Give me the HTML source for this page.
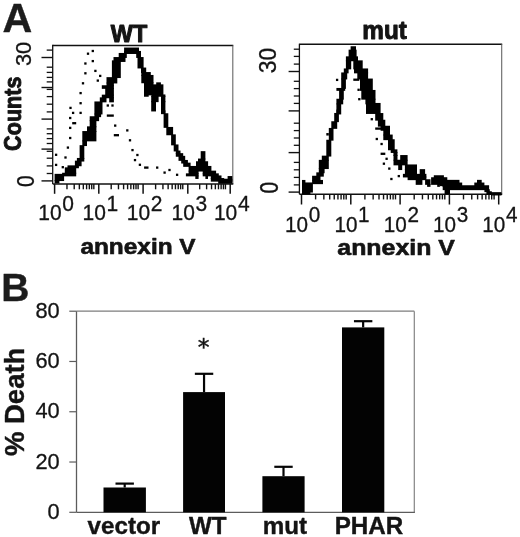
<!DOCTYPE html>
<html><head><meta charset="utf-8"><title>Figure</title>
<style>
html,body{margin:0;padding:0;background:#fff;}
svg{display:block;filter:blur(0.35px);}
text{font-family:"Liberation Sans",Arial,Helvetica,sans-serif;}
text.dj{font-family:"DejaVu Sans","Liberation Sans",sans-serif;}
</style></head>
<body>
<svg width="520" height="537" viewBox="0 0 520 537">
<rect x="0" y="0" width="520" height="537" fill="#ffffff"/>
<text transform="translate(2.4,32.0)"  font-size="41.2" font-weight="bold" stroke="#1c1c1c" stroke-width="0.4" stroke-linejoin="round" text-anchor="start" fill="#1c1c1c" >A</text>
<text transform="translate(1.2,301.2)"  font-size="39" font-weight="bold" stroke="#1c1c1c" stroke-width="0.4" stroke-linejoin="round" text-anchor="start" fill="#1c1c1c" >B</text>
<line x1="52.70" y1="44.80" x2="52.70" y2="184.00" stroke="#111" stroke-width="1.3"/>
<line x1="52.70" y1="45.40" x2="233.30" y2="45.40" stroke="#111" stroke-width="1.5"/>
<line x1="232.80" y1="45.40" x2="232.80" y2="184.00" stroke="#666" stroke-width="1.1"/>
<line x1="52.70" y1="184.00" x2="233.30" y2="184.00" stroke="#111" stroke-width="1.4"/>
<line x1="54.60" y1="184.00" x2="54.60" y2="193.80" stroke="#111" stroke-width="1.5"/>
<line x1="66.97" y1="184.00" x2="66.97" y2="189.30" stroke="#111" stroke-width="1.4"/>
<line x1="74.21" y1="184.00" x2="74.21" y2="189.30" stroke="#111" stroke-width="1.4"/>
<line x1="79.35" y1="184.00" x2="79.35" y2="189.30" stroke="#111" stroke-width="1.4"/>
<line x1="83.33" y1="184.00" x2="83.33" y2="189.30" stroke="#111" stroke-width="1.4"/>
<line x1="86.59" y1="184.00" x2="86.59" y2="189.30" stroke="#111" stroke-width="1.4"/>
<line x1="89.34" y1="184.00" x2="89.34" y2="189.30" stroke="#111" stroke-width="1.4"/>
<line x1="91.72" y1="184.00" x2="91.72" y2="189.30" stroke="#111" stroke-width="1.4"/>
<line x1="93.83" y1="184.00" x2="93.83" y2="189.30" stroke="#111" stroke-width="1.4"/>
<line x1="98.80" y1="184.00" x2="98.80" y2="193.80" stroke="#111" stroke-width="1.5"/>
<line x1="111.20" y1="184.00" x2="111.20" y2="189.30" stroke="#111" stroke-width="1.4"/>
<line x1="118.46" y1="184.00" x2="118.46" y2="189.30" stroke="#111" stroke-width="1.4"/>
<line x1="123.60" y1="184.00" x2="123.60" y2="189.30" stroke="#111" stroke-width="1.4"/>
<line x1="127.60" y1="184.00" x2="127.60" y2="189.30" stroke="#111" stroke-width="1.4"/>
<line x1="130.86" y1="184.00" x2="130.86" y2="189.30" stroke="#111" stroke-width="1.4"/>
<line x1="133.62" y1="184.00" x2="133.62" y2="189.30" stroke="#111" stroke-width="1.4"/>
<line x1="136.01" y1="184.00" x2="136.01" y2="189.30" stroke="#111" stroke-width="1.4"/>
<line x1="138.11" y1="184.00" x2="138.11" y2="189.30" stroke="#111" stroke-width="1.4"/>
<line x1="143.10" y1="184.00" x2="143.10" y2="193.80" stroke="#111" stroke-width="1.5"/>
<line x1="155.61" y1="184.00" x2="155.61" y2="189.30" stroke="#111" stroke-width="1.4"/>
<line x1="162.93" y1="184.00" x2="162.93" y2="189.30" stroke="#111" stroke-width="1.4"/>
<line x1="168.13" y1="184.00" x2="168.13" y2="189.30" stroke="#111" stroke-width="1.4"/>
<line x1="172.16" y1="184.00" x2="172.16" y2="189.30" stroke="#111" stroke-width="1.4"/>
<line x1="175.45" y1="184.00" x2="175.45" y2="189.30" stroke="#111" stroke-width="1.4"/>
<line x1="178.23" y1="184.00" x2="178.23" y2="189.30" stroke="#111" stroke-width="1.4"/>
<line x1="180.64" y1="184.00" x2="180.64" y2="189.30" stroke="#111" stroke-width="1.4"/>
<line x1="182.77" y1="184.00" x2="182.77" y2="189.30" stroke="#111" stroke-width="1.4"/>
<line x1="187.80" y1="184.00" x2="187.80" y2="193.80" stroke="#111" stroke-width="1.5"/>
<line x1="199.67" y1="184.00" x2="199.67" y2="189.30" stroke="#111" stroke-width="1.4"/>
<line x1="206.61" y1="184.00" x2="206.61" y2="189.30" stroke="#111" stroke-width="1.4"/>
<line x1="211.54" y1="184.00" x2="211.54" y2="189.30" stroke="#111" stroke-width="1.4"/>
<line x1="215.36" y1="184.00" x2="215.36" y2="189.30" stroke="#111" stroke-width="1.4"/>
<line x1="218.48" y1="184.00" x2="218.48" y2="189.30" stroke="#111" stroke-width="1.4"/>
<line x1="221.12" y1="184.00" x2="221.12" y2="189.30" stroke="#111" stroke-width="1.4"/>
<line x1="223.41" y1="184.00" x2="223.41" y2="189.30" stroke="#111" stroke-width="1.4"/>
<line x1="225.43" y1="184.00" x2="225.43" y2="189.30" stroke="#111" stroke-width="1.4"/>
<line x1="230.20" y1="184.00" x2="230.20" y2="193.80" stroke="#111" stroke-width="1.5"/>
<line x1="41.50" y1="57.50" x2="52.70" y2="57.50" stroke="#111" stroke-width="1.4"/>
<line x1="41.50" y1="87.50" x2="52.70" y2="87.50" stroke="#111" stroke-width="1.4"/>
<line x1="41.50" y1="119.10" x2="52.70" y2="119.10" stroke="#111" stroke-width="1.4"/>
<line x1="41.50" y1="149.10" x2="52.70" y2="149.10" stroke="#111" stroke-width="1.4"/>
<line x1="41.50" y1="180.90" x2="52.70" y2="180.90" stroke="#111" stroke-width="1.4"/>
<line x1="46.70" y1="50.10" x2="52.70" y2="50.10" stroke="#111" stroke-width="1.3"/>
<line x1="46.70" y1="67.20" x2="52.70" y2="67.20" stroke="#111" stroke-width="1.3"/>
<line x1="46.70" y1="72.40" x2="52.70" y2="72.40" stroke="#111" stroke-width="1.3"/>
<line x1="46.70" y1="77.40" x2="52.70" y2="77.40" stroke="#111" stroke-width="1.3"/>
<line x1="46.70" y1="81.90" x2="52.70" y2="81.90" stroke="#111" stroke-width="1.3"/>
<line x1="46.70" y1="89.40" x2="52.70" y2="89.40" stroke="#111" stroke-width="1.3"/>
<line x1="46.70" y1="96.60" x2="52.70" y2="96.60" stroke="#111" stroke-width="1.3"/>
<line x1="46.70" y1="104.20" x2="52.70" y2="104.20" stroke="#111" stroke-width="1.3"/>
<line x1="46.70" y1="111.90" x2="52.70" y2="111.90" stroke="#111" stroke-width="1.3"/>
<line x1="46.70" y1="128.90" x2="52.70" y2="128.90" stroke="#111" stroke-width="1.3"/>
<line x1="46.70" y1="133.70" x2="52.70" y2="133.70" stroke="#111" stroke-width="1.3"/>
<line x1="46.70" y1="138.60" x2="52.70" y2="138.60" stroke="#111" stroke-width="1.3"/>
<line x1="46.70" y1="143.50" x2="52.70" y2="143.50" stroke="#111" stroke-width="1.3"/>
<line x1="46.70" y1="151.30" x2="52.70" y2="151.30" stroke="#111" stroke-width="1.3"/>
<line x1="46.70" y1="158.20" x2="52.70" y2="158.20" stroke="#111" stroke-width="1.3"/>
<line x1="46.70" y1="165.90" x2="52.70" y2="165.90" stroke="#111" stroke-width="1.3"/>
<line x1="46.70" y1="173.50" x2="52.70" y2="173.50" stroke="#111" stroke-width="1.3"/>
<text transform="translate(38.30,219.9) scale(1,1.04)"  font-size="21.0" fill="#141414" stroke="#141414" stroke-width="0.3">10<tspan dy="-8.94" dx="0.7">0</tspan></text>
<text transform="translate(82.50,219.9) scale(1,1.04)"  font-size="21.0" fill="#141414" stroke="#141414" stroke-width="0.3">10<tspan dy="-8.94" dx="0.7">1</tspan></text>
<text transform="translate(126.80,219.9) scale(1,1.04)"  font-size="21.0" fill="#141414" stroke="#141414" stroke-width="0.3">10<tspan dy="-8.94" dx="0.7">2</tspan></text>
<text transform="translate(171.50,219.9) scale(1,1.04)"  font-size="21.0" fill="#141414" stroke="#141414" stroke-width="0.3">10<tspan dy="-8.94" dx="0.7">3</tspan></text>
<text transform="translate(213.90,219.9) scale(1,1.04)"  font-size="21.0" fill="#141414" stroke="#141414" stroke-width="0.3">10<tspan dy="-8.94" dx="0.7">4</tspan></text>
<line x1="299.40" y1="43.70" x2="299.40" y2="194.20" stroke="#111" stroke-width="1.3"/>
<line x1="299.40" y1="44.30" x2="502.20" y2="44.30" stroke="#111" stroke-width="1.5"/>
<line x1="501.70" y1="44.30" x2="501.70" y2="194.20" stroke="#666" stroke-width="1.1"/>
<line x1="299.40" y1="194.20" x2="502.20" y2="194.20" stroke="#111" stroke-width="1.4"/>
<line x1="301.50" y1="194.20" x2="301.50" y2="204.50" stroke="#111" stroke-width="1.5"/>
<line x1="315.60" y1="194.20" x2="315.60" y2="199.40" stroke="#111" stroke-width="1.4"/>
<line x1="323.85" y1="194.20" x2="323.85" y2="199.40" stroke="#111" stroke-width="1.4"/>
<line x1="329.70" y1="194.20" x2="329.70" y2="199.40" stroke="#111" stroke-width="1.4"/>
<line x1="334.24" y1="194.20" x2="334.24" y2="199.40" stroke="#111" stroke-width="1.4"/>
<line x1="337.94" y1="194.20" x2="337.94" y2="199.40" stroke="#111" stroke-width="1.4"/>
<line x1="341.08" y1="194.20" x2="341.08" y2="199.40" stroke="#111" stroke-width="1.4"/>
<line x1="343.80" y1="194.20" x2="343.80" y2="199.40" stroke="#111" stroke-width="1.4"/>
<line x1="346.19" y1="194.20" x2="346.19" y2="199.40" stroke="#111" stroke-width="1.4"/>
<line x1="350.80" y1="194.20" x2="350.80" y2="204.50" stroke="#111" stroke-width="1.5"/>
<line x1="364.90" y1="194.20" x2="364.90" y2="199.40" stroke="#111" stroke-width="1.4"/>
<line x1="373.15" y1="194.20" x2="373.15" y2="199.40" stroke="#111" stroke-width="1.4"/>
<line x1="379.00" y1="194.20" x2="379.00" y2="199.40" stroke="#111" stroke-width="1.4"/>
<line x1="383.54" y1="194.20" x2="383.54" y2="199.40" stroke="#111" stroke-width="1.4"/>
<line x1="387.24" y1="194.20" x2="387.24" y2="199.40" stroke="#111" stroke-width="1.4"/>
<line x1="390.38" y1="194.20" x2="390.38" y2="199.40" stroke="#111" stroke-width="1.4"/>
<line x1="393.10" y1="194.20" x2="393.10" y2="199.40" stroke="#111" stroke-width="1.4"/>
<line x1="395.49" y1="194.20" x2="395.49" y2="199.40" stroke="#111" stroke-width="1.4"/>
<line x1="400.10" y1="194.20" x2="400.10" y2="204.50" stroke="#111" stroke-width="1.5"/>
<line x1="414.20" y1="194.20" x2="414.20" y2="199.40" stroke="#111" stroke-width="1.4"/>
<line x1="422.45" y1="194.20" x2="422.45" y2="199.40" stroke="#111" stroke-width="1.4"/>
<line x1="428.30" y1="194.20" x2="428.30" y2="199.40" stroke="#111" stroke-width="1.4"/>
<line x1="432.84" y1="194.20" x2="432.84" y2="199.40" stroke="#111" stroke-width="1.4"/>
<line x1="436.54" y1="194.20" x2="436.54" y2="199.40" stroke="#111" stroke-width="1.4"/>
<line x1="439.68" y1="194.20" x2="439.68" y2="199.40" stroke="#111" stroke-width="1.4"/>
<line x1="442.40" y1="194.20" x2="442.40" y2="199.40" stroke="#111" stroke-width="1.4"/>
<line x1="444.79" y1="194.20" x2="444.79" y2="199.40" stroke="#111" stroke-width="1.4"/>
<line x1="449.40" y1="194.20" x2="449.40" y2="204.50" stroke="#111" stroke-width="1.5"/>
<line x1="463.50" y1="194.20" x2="463.50" y2="199.40" stroke="#111" stroke-width="1.4"/>
<line x1="471.75" y1="194.20" x2="471.75" y2="199.40" stroke="#111" stroke-width="1.4"/>
<line x1="477.60" y1="194.20" x2="477.60" y2="199.40" stroke="#111" stroke-width="1.4"/>
<line x1="482.14" y1="194.20" x2="482.14" y2="199.40" stroke="#111" stroke-width="1.4"/>
<line x1="485.84" y1="194.20" x2="485.84" y2="199.40" stroke="#111" stroke-width="1.4"/>
<line x1="488.98" y1="194.20" x2="488.98" y2="199.40" stroke="#111" stroke-width="1.4"/>
<line x1="491.70" y1="194.20" x2="491.70" y2="199.40" stroke="#111" stroke-width="1.4"/>
<line x1="494.09" y1="194.20" x2="494.09" y2="199.40" stroke="#111" stroke-width="1.4"/>
<line x1="498.70" y1="194.20" x2="498.70" y2="204.50" stroke="#111" stroke-width="1.5"/>
<line x1="288.60" y1="71.50" x2="299.40" y2="71.50" stroke="#111" stroke-width="1.4"/>
<line x1="288.60" y1="110.90" x2="299.40" y2="110.90" stroke="#111" stroke-width="1.4"/>
<line x1="288.60" y1="152.60" x2="299.40" y2="152.60" stroke="#111" stroke-width="1.4"/>
<line x1="288.60" y1="192.10" x2="299.40" y2="192.10" stroke="#111" stroke-width="1.4"/>
<line x1="293.80" y1="49.20" x2="299.40" y2="49.20" stroke="#111" stroke-width="1.3"/>
<line x1="293.80" y1="56.40" x2="299.40" y2="56.40" stroke="#111" stroke-width="1.3"/>
<line x1="293.80" y1="64.10" x2="299.40" y2="64.10" stroke="#111" stroke-width="1.3"/>
<line x1="293.80" y1="81.30" x2="299.40" y2="81.30" stroke="#111" stroke-width="1.3"/>
<line x1="293.80" y1="88.60" x2="299.40" y2="88.60" stroke="#111" stroke-width="1.3"/>
<line x1="293.80" y1="96.00" x2="299.40" y2="96.00" stroke="#111" stroke-width="1.3"/>
<line x1="293.80" y1="103.40" x2="299.40" y2="103.40" stroke="#111" stroke-width="1.3"/>
<line x1="293.80" y1="123.20" x2="299.40" y2="123.20" stroke="#111" stroke-width="1.3"/>
<line x1="293.80" y1="130.60" x2="299.40" y2="130.60" stroke="#111" stroke-width="1.3"/>
<line x1="293.80" y1="138.00" x2="299.40" y2="138.00" stroke="#111" stroke-width="1.3"/>
<line x1="293.80" y1="145.30" x2="299.40" y2="145.30" stroke="#111" stroke-width="1.3"/>
<line x1="293.80" y1="162.40" x2="299.40" y2="162.40" stroke="#111" stroke-width="1.3"/>
<line x1="293.80" y1="169.80" x2="299.40" y2="169.80" stroke="#111" stroke-width="1.3"/>
<line x1="293.80" y1="177.40" x2="299.40" y2="177.40" stroke="#111" stroke-width="1.3"/>
<line x1="293.80" y1="184.90" x2="299.40" y2="184.90" stroke="#111" stroke-width="1.3"/>
<text transform="translate(285.10,231.6) scale(1,1.04)"  font-size="20.7" fill="#141414" stroke="#141414" stroke-width="0.3">10<tspan dy="-9.13" dx="0.7">0</tspan></text>
<text transform="translate(334.40,231.6) scale(1,1.04)"  font-size="20.7" fill="#141414" stroke="#141414" stroke-width="0.3">10<tspan dy="-9.13" dx="0.7">1</tspan></text>
<text transform="translate(383.70,231.6) scale(1,1.04)"  font-size="20.7" fill="#141414" stroke="#141414" stroke-width="0.3">10<tspan dy="-9.13" dx="0.7">2</tspan></text>
<text transform="translate(433.00,231.6) scale(1,1.04)"  font-size="20.7" fill="#141414" stroke="#141414" stroke-width="0.3">10<tspan dy="-9.13" dx="0.7">3</tspan></text>
<text transform="translate(482.30,231.6) scale(1,1.04)"  font-size="20.7" fill="#141414" stroke="#141414" stroke-width="0.3">10<tspan dy="-9.13" dx="0.7">4</tspan></text>
<text transform="translate(129,42.2) scale(1.0,1.03)"  font-size="23.4" font-weight="bold" stroke="#141414" stroke-width="1.0" stroke-linejoin="round" text-anchor="middle" fill="#141414" >WT</text>
<text transform="translate(384.6,38.6) scale(1.0,1.04)"  font-size="24.3" font-weight="bold" stroke="#141414" stroke-width="0.9" stroke-linejoin="round" text-anchor="middle" fill="#141414" >mut</text>
<text transform="translate(80.4,254.2) scale(1.0,0.92)"  font-size="24.4" font-weight="bold" stroke="#141414" stroke-width="0.7" stroke-linejoin="round" text-anchor="start" fill="#141414" >annexin V</text>
<text transform="translate(337.3,254.8) scale(1.0,0.91)"  font-size="24.9" font-weight="bold" stroke="#141414" stroke-width="0.7" stroke-linejoin="round" text-anchor="start" fill="#141414" >annexin V</text>
<text transform="translate(31.2,66.0) rotate(-90) scale(1.0,1.05)"  font-size="21.8" stroke="#141414" stroke-width="0.3" stroke-linejoin="round" text-anchor="start" fill="#141414" >30</text>
<text transform="translate(33.7,187.0) rotate(-90) scale(1.0,1.17)"  font-size="21" stroke="#141414" stroke-width="0.3" stroke-linejoin="round" text-anchor="start" fill="#141414" >0</text>
<text transform="translate(20.6,150.9) rotate(-90) scale(1.0,1.14)"  font-size="21.6" font-weight="bold" stroke="#141414" stroke-width="0.8" stroke-linejoin="round" text-anchor="start" fill="#141414" >Counts</text>
<text transform="translate(275.5,73.2) rotate(-90) scale(1.0,1.09)"  font-size="22.8" stroke="#141414" stroke-width="0.3" stroke-linejoin="round" text-anchor="start" fill="#141414" >30</text>
<text transform="translate(277.9,193.5) rotate(-90) scale(1.0,1.21)"  font-size="21" stroke="#141414" stroke-width="0.3" stroke-linejoin="round" text-anchor="start" fill="#141414" >0</text>
<rect x="54.60" y="180.15" width="4.80" height="3.30" fill="#000"/>
<rect x="54.60" y="173.85" width="9.50" height="7.20" fill="#000"/>
<rect x="62.10" y="172.75" width="14.10" height="3.60" fill="#000"/>
<rect x="64.80" y="167.35" width="11.40" height="6.30" fill="#000"/>
<rect x="67.50" y="165.35" width="11.40" height="2.90" fill="#000"/>
<rect x="74.90" y="160.65" width="6.70" height="5.60" fill="#000"/>
<rect x="76.90" y="157.95" width="7.40" height="3.60" fill="#000"/>
<rect x="79.60" y="145.15" width="4.70" height="13.70" fill="#000"/>
<rect x="82.30" y="140.45" width="4.70" height="5.60" fill="#000"/>
<rect x="82.30" y="131.05" width="14.10" height="10.30" fill="#000"/>
<rect x="87.00" y="126.35" width="9.40" height="5.60" fill="#000"/>
<rect x="89.70" y="120.25" width="6.70" height="7.00" fill="#000"/>
<rect x="89.70" y="116.25" width="9.40" height="4.90" fill="#000"/>
<rect x="94.40" y="113.55" width="6.70" height="3.60" fill="#000"/>
<rect x="94.40" y="101.45" width="8.10" height="13.00" fill="#000"/>
<rect x="99.80" y="97.35" width="6.70" height="5.00" fill="#000"/>
<rect x="109.20" y="97.35" width="4.70" height="5.00" fill="#000"/>
<rect x="101.80" y="94.65" width="12.10" height="3.60" fill="#000"/>
<rect x="105.20" y="87.95" width="8.70" height="7.60" fill="#000"/>
<rect x="101.80" y="85.25" width="12.10" height="3.60" fill="#000"/>
<rect x="106.50" y="82.55" width="7.40" height="3.60" fill="#000"/>
<rect x="106.50" y="77.15" width="10.80" height="6.30" fill="#000"/>
<rect x="111.90" y="60.35" width="8.90" height="17.70" fill="#000"/>
<rect x="113.50" y="57.05" width="12.00" height="4.90" fill="#000"/>
<rect x="118.70" y="52.95" width="8.10" height="5.00" fill="#000"/>
<rect x="124.10" y="47.55" width="14.90" height="6.30" fill="#000"/>
<rect x="124.10" y="50.95" width="16.90" height="2.90" fill="#000"/>
<rect x="136.20" y="52.95" width="4.80" height="5.00" fill="#000"/>
<rect x="137.50" y="57.05" width="6.10" height="11.40" fill="#000"/>
<rect x="141.00" y="67.55" width="5.20" height="5.40" fill="#000"/>
<rect x="141.30" y="72.05" width="9.50" height="3.80" fill="#000"/>
<rect x="141.30" y="74.95" width="12.20" height="8.30" fill="#000"/>
<rect x="144.00" y="82.35" width="9.50" height="2.90" fill="#000"/>
<rect x="156.20" y="82.35" width="4.70" height="2.90" fill="#000"/>
<rect x="144.00" y="84.35" width="19.40" height="11.00" fill="#000"/>
<rect x="144.00" y="94.45" width="4.70" height="2.30" fill="#000"/>
<rect x="151.40" y="94.45" width="14.00" height="2.30" fill="#000"/>
<rect x="151.20" y="95.85" width="7.40" height="6.30" fill="#000"/>
<rect x="161.00" y="95.85" width="4.40" height="6.30" fill="#000"/>
<rect x="151.20" y="101.25" width="4.80" height="10.20" fill="#000"/>
<rect x="161.00" y="101.25" width="4.40" height="10.20" fill="#000"/>
<rect x="161.00" y="110.55" width="4.60" height="3.60" fill="#000"/>
<rect x="163.60" y="113.25" width="4.70" height="14.60" fill="#000"/>
<rect x="166.30" y="126.95" width="6.80" height="8.30" fill="#000"/>
<rect x="171.10" y="134.35" width="4.70" height="11.00" fill="#000"/>
<rect x="173.70" y="144.45" width="4.80" height="7.00" fill="#000"/>
<rect x="175.80" y="150.55" width="4.70" height="3.50" fill="#000"/>
<rect x="175.80" y="153.15" width="7.40" height="3.60" fill="#000"/>
<rect x="178.50" y="155.85" width="6.70" height="5.00" fill="#000"/>
<rect x="181.20" y="159.95" width="6.70" height="3.60" fill="#000"/>
<rect x="183.20" y="162.65" width="7.40" height="4.20" fill="#000"/>
<rect x="188.60" y="165.95" width="22.80" height="5.60" fill="#000"/>
<rect x="200.70" y="151.15" width="4.70" height="8.30" fill="#000"/>
<rect x="198.00" y="158.55" width="7.40" height="3.60" fill="#000"/>
<rect x="196.00" y="161.25" width="12.10" height="5.60" fill="#000"/>
<rect x="188.60" y="170.65" width="10.00" height="3.60" fill="#000"/>
<rect x="202.70" y="170.65" width="13.40" height="3.60" fill="#000"/>
<rect x="185.90" y="173.35" width="12.70" height="3.00" fill="#000"/>
<rect x="202.70" y="173.35" width="16.10" height="3.00" fill="#000"/>
<rect x="195.30" y="175.45" width="3.30" height="3.50" fill="#000"/>
<rect x="205.40" y="175.45" width="2.60" height="3.50" fill="#000"/>
<rect x="210.80" y="175.45" width="10.70" height="3.50" fill="#000"/>
<rect x="210.80" y="178.05" width="13.40" height="3.60" fill="#000"/>
<rect x="218.20" y="178.75" width="14.10" height="5.00" fill="#000"/>
<rect x="227.60" y="176.05" width="4.70" height="5.60" fill="#000"/>
<rect x="91.65" y="49.85" width="2.30" height="2.30" fill="#000"/>
<rect x="86.85" y="52.55" width="2.30" height="2.30" fill="#000"/>
<rect x="91.65" y="59.95" width="2.30" height="2.30" fill="#000"/>
<rect x="84.25" y="62.35" width="2.30" height="2.30" fill="#000"/>
<rect x="94.25" y="69.75" width="2.30" height="2.30" fill="#000"/>
<rect x="84.25" y="72.15" width="2.30" height="2.30" fill="#000"/>
<rect x="99.05" y="74.75" width="2.30" height="2.30" fill="#000"/>
<rect x="96.65" y="79.45" width="2.30" height="2.30" fill="#000"/>
<rect x="81.85" y="82.15" width="2.30" height="2.30" fill="#000"/>
<rect x="79.45" y="91.95" width="2.30" height="2.30" fill="#000"/>
<rect x="79.45" y="102.05" width="2.30" height="2.30" fill="#000"/>
<rect x="69.35" y="106.75" width="2.30" height="2.30" fill="#000"/>
<rect x="71.95" y="111.75" width="2.30" height="2.30" fill="#000"/>
<rect x="79.45" y="111.75" width="2.30" height="2.30" fill="#000"/>
<rect x="106.65" y="104.35" width="2.30" height="2.30" fill="#000"/>
<rect x="111.35" y="104.35" width="2.30" height="2.30" fill="#000"/>
<rect x="69.05" y="116.85" width="2.30" height="2.30" fill="#000"/>
<rect x="69.05" y="126.75" width="2.30" height="2.30" fill="#000"/>
<rect x="69.05" y="136.85" width="2.30" height="2.30" fill="#000"/>
<rect x="66.75" y="146.45" width="2.30" height="2.30" fill="#000"/>
<rect x="54.95" y="153.65" width="2.30" height="2.30" fill="#000"/>
<rect x="64.35" y="156.35" width="2.30" height="2.30" fill="#000"/>
<rect x="54.95" y="163.75" width="2.30" height="2.30" fill="#000"/>
<rect x="61.65" y="166.05" width="2.30" height="2.30" fill="#000"/>
<rect x="114.05" y="124.45" width="2.30" height="2.30" fill="#000"/>
<rect x="126.15" y="129.25" width="2.30" height="2.30" fill="#000"/>
<rect x="128.85" y="139.15" width="2.30" height="2.30" fill="#000"/>
<rect x="131.35" y="148.95" width="2.30" height="2.30" fill="#000"/>
<rect x="136.25" y="153.85" width="2.30" height="2.30" fill="#000"/>
<rect x="133.85" y="158.95" width="2.30" height="2.30" fill="#000"/>
<rect x="138.75" y="163.65" width="2.30" height="2.30" fill="#000"/>
<rect x="156.05" y="166.45" width="2.30" height="2.30" fill="#000"/>
<rect x="163.45" y="171.45" width="2.30" height="2.30" fill="#000"/>
<rect x="168.35" y="168.85" width="2.30" height="2.30" fill="#000"/>
<rect x="175.95" y="173.65" width="2.30" height="2.30" fill="#000"/>
<rect x="106.80" y="114.45" width="7.00" height="2.30" fill="#000"/>
<rect x="72.20" y="122.05" width="4.00" height="2.30" fill="#000"/>
<rect x="113.80" y="134.05" width="5.20" height="2.30" fill="#000"/>
<rect x="144.10" y="166.45" width="4.40" height="2.30" fill="#000"/>
<rect x="302.00" y="191.65" width="8.40" height="2.60" fill="#000"/>
<rect x="302.00" y="182.45" width="10.90" height="10.10" fill="#000"/>
<rect x="302.00" y="179.95" width="3.40" height="3.40" fill="#000"/>
<rect x="312.10" y="179.95" width="10.90" height="4.20" fill="#000"/>
<rect x="312.10" y="175.75" width="8.40" height="5.10" fill="#000"/>
<rect x="316.30" y="172.35" width="7.50" height="4.30" fill="#000"/>
<rect x="318.80" y="168.15" width="5.80" height="5.10" fill="#000"/>
<rect x="318.80" y="159.85" width="10.00" height="9.20" fill="#000"/>
<rect x="321.80" y="155.65" width="7.00" height="5.10" fill="#000"/>
<rect x="326.30" y="139.75" width="5.00" height="16.80" fill="#000"/>
<rect x="328.80" y="127.95" width="4.70" height="12.70" fill="#000"/>
<rect x="326.30" y="133.05" width="2.50" height="2.50" fill="#000"/>
<rect x="331.30" y="121.25" width="5.90" height="7.60" fill="#000"/>
<rect x="334.20" y="112.95" width="4.70" height="9.20" fill="#000"/>
<rect x="336.40" y="109.55" width="4.50" height="4.30" fill="#000"/>
<rect x="336.40" y="103.45" width="4.80" height="11.00" fill="#000"/>
<rect x="336.40" y="98.75" width="6.80" height="5.60" fill="#000"/>
<rect x="339.10" y="89.95" width="4.70" height="9.70" fill="#000"/>
<rect x="336.40" y="87.95" width="8.80" height="2.90" fill="#000"/>
<rect x="341.20" y="78.55" width="4.70" height="10.30" fill="#000"/>
<rect x="341.20" y="72.45" width="6.00" height="7.00" fill="#000"/>
<rect x="343.80" y="68.45" width="4.80" height="4.90" fill="#000"/>
<rect x="345.90" y="60.35" width="5.30" height="9.00" fill="#000"/>
<rect x="345.90" y="56.35" width="12.10" height="4.90" fill="#000"/>
<rect x="348.60" y="49.65" width="8.00" height="7.60" fill="#000"/>
<rect x="350.60" y="46.25" width="5.40" height="4.30" fill="#000"/>
<rect x="353.30" y="60.35" width="9.40" height="9.00" fill="#000"/>
<rect x="354.00" y="68.45" width="14.10" height="4.90" fill="#000"/>
<rect x="357.30" y="72.45" width="10.80" height="7.00" fill="#000"/>
<rect x="360.00" y="78.55" width="12.80" height="12.30" fill="#000"/>
<rect x="361.30" y="89.95" width="14.20" height="9.70" fill="#000"/>
<rect x="365.40" y="98.75" width="10.10" height="5.60" fill="#000"/>
<rect x="366.00" y="102.95" width="14.60" height="11.00" fill="#000"/>
<rect x="375.20" y="113.05" width="8.10" height="7.60" fill="#000"/>
<rect x="377.90" y="119.75" width="7.40" height="6.90" fill="#000"/>
<rect x="380.60" y="125.75" width="9.40" height="5.00" fill="#000"/>
<rect x="383.30" y="129.85" width="6.70" height="5.60" fill="#000"/>
<rect x="383.30" y="134.55" width="9.40" height="5.60" fill="#000"/>
<rect x="388.00" y="139.25" width="6.70" height="11.00" fill="#000"/>
<rect x="390.70" y="149.35" width="6.70" height="3.60" fill="#000"/>
<rect x="393.40" y="152.05" width="4.10" height="3.90" fill="#000"/>
<rect x="393.50" y="155.05" width="4.00" height="5.60" fill="#000"/>
<rect x="400.20" y="155.05" width="7.40" height="5.60" fill="#000"/>
<rect x="393.50" y="159.75" width="14.10" height="5.60" fill="#000"/>
<rect x="398.20" y="164.45" width="4.00" height="5.60" fill="#000"/>
<rect x="404.90" y="164.45" width="12.10" height="5.60" fill="#000"/>
<rect x="404.90" y="169.15" width="12.10" height="5.60" fill="#000"/>
<rect x="419.70" y="169.15" width="5.40" height="5.60" fill="#000"/>
<rect x="402.90" y="173.85" width="23.50" height="3.60" fill="#000"/>
<rect x="407.60" y="176.55" width="18.80" height="3.60" fill="#000"/>
<rect x="415.70" y="179.25" width="6.70" height="5.60" fill="#000"/>
<rect x="425.10" y="179.25" width="5.40" height="5.60" fill="#000"/>
<rect x="433.80" y="175.25" width="10.10" height="5.60" fill="#000"/>
<rect x="431.10" y="177.25" width="16.20" height="7.60" fill="#000"/>
<rect x="427.10" y="183.95" width="3.40" height="2.90" fill="#000"/>
<rect x="437.20" y="183.95" width="2.70" height="2.90" fill="#000"/>
<rect x="442.60" y="183.95" width="7.40" height="2.90" fill="#000"/>
<rect x="444.60" y="185.95" width="5.40" height="8.30" fill="#000"/>
<rect x="440.00" y="177.85" width="6.70" height="2.90" fill="#000"/>
<rect x="440.00" y="179.85" width="19.50" height="3.60" fill="#000"/>
<rect x="477.00" y="179.85" width="4.70" height="3.60" fill="#000"/>
<rect x="440.00" y="182.55" width="22.20" height="3.60" fill="#000"/>
<rect x="474.30" y="182.55" width="10.10" height="3.60" fill="#000"/>
<rect x="442.70" y="185.25" width="46.40" height="4.90" fill="#000"/>
<rect x="484.40" y="189.25" width="5.40" height="2.90" fill="#000"/>
<rect x="486.40" y="191.25" width="5.40" height="3.60" fill="#000"/>
<rect x="491.00" y="192.15" width="10.50" height="3.30" fill="#000"/>
<rect x="335.95" y="78.75" width="2.30" height="2.30" fill="#000"/>
<rect x="357.45" y="88.65" width="2.30" height="2.30" fill="#000"/>
<rect x="358.15" y="98.05" width="2.30" height="2.30" fill="#000"/>
<rect x="370.65" y="118.05" width="2.30" height="2.30" fill="#000"/>
<rect x="375.65" y="137.85" width="2.30" height="2.30" fill="#000"/>
<rect x="380.45" y="142.85" width="2.30" height="2.30" fill="#000"/>
<rect x="385.45" y="157.65" width="2.30" height="2.30" fill="#000"/>
<rect x="382.75" y="162.55" width="2.30" height="2.30" fill="#000"/>
<rect x="388.15" y="167.45" width="2.30" height="2.30" fill="#000"/>
<rect x="397.65" y="174.95" width="2.30" height="2.30" fill="#000"/>
<rect x="390.25" y="177.85" width="2.30" height="2.30" fill="#000"/>
<rect x="353.30" y="78.55" width="6.00" height="2.30" fill="#000"/>
<rect x="375.20" y="127.45" width="5.80" height="2.30" fill="#000"/>
<rect x="380.60" y="152.65" width="4.70" height="2.30" fill="#000"/>
<line x1="76.50" y1="311.20" x2="76.50" y2="512.30" stroke="#5c5c5c" stroke-width="1.3"/>
<line x1="76.50" y1="311.20" x2="414.30" y2="311.20" stroke="#7c7c7c" stroke-width="1.2"/>
<line x1="414.30" y1="311.20" x2="414.30" y2="512.30" stroke="#848484" stroke-width="1.2"/>
<line x1="76.50" y1="512.30" x2="414.90" y2="512.30" stroke="#5c5c5c" stroke-width="1.3"/>
<line x1="69.30" y1="512.30" x2="76.50" y2="512.30" stroke="#5c5c5c" stroke-width="1.2"/>
<text transform="translate(59.7,518.8) scale(1.0,1.05)"  font-size="21.8" stroke="#141414" stroke-width="0.3" stroke-linejoin="round" text-anchor="end" fill="#141414" >0</text>
<line x1="69.30" y1="462.02" x2="76.50" y2="462.02" stroke="#5c5c5c" stroke-width="1.2"/>
<text transform="translate(59.7,468.525) scale(1.0,1.05)"  font-size="21.8" stroke="#141414" stroke-width="0.3" stroke-linejoin="round" text-anchor="end" fill="#141414" >20</text>
<line x1="69.30" y1="411.75" x2="76.50" y2="411.75" stroke="#5c5c5c" stroke-width="1.2"/>
<text transform="translate(59.7,418.25) scale(1.0,1.05)"  font-size="21.8" stroke="#141414" stroke-width="0.3" stroke-linejoin="round" text-anchor="end" fill="#141414" >40</text>
<line x1="69.30" y1="361.47" x2="76.50" y2="361.47" stroke="#5c5c5c" stroke-width="1.2"/>
<text transform="translate(59.7,367.97499999999997) scale(1.0,1.05)"  font-size="21.8" stroke="#141414" stroke-width="0.3" stroke-linejoin="round" text-anchor="end" fill="#141414" >60</text>
<line x1="69.30" y1="311.20" x2="76.50" y2="311.20" stroke="#5c5c5c" stroke-width="1.2"/>
<text transform="translate(59.7,317.7) scale(1.0,1.05)"  font-size="21.8" stroke="#141414" stroke-width="0.3" stroke-linejoin="round" text-anchor="end" fill="#141414" >80</text>
<rect x="103.50" y="487.50" width="42.40" height="24.80" fill="#030303"/>
<line x1="124.70" y1="483.60" x2="124.70" y2="487.50" stroke="#050505" stroke-width="2.2"/>
<line x1="115.50" y1="483.60" x2="133.90" y2="483.60" stroke="#050505" stroke-width="2.2"/>
<rect x="183.10" y="392.10" width="41.90" height="120.20" fill="#030303"/>
<line x1="204.05" y1="373.80" x2="204.05" y2="392.10" stroke="#050505" stroke-width="2.2"/>
<line x1="194.85" y1="373.80" x2="213.25" y2="373.80" stroke="#050505" stroke-width="2.2"/>
<rect x="262.40" y="476.20" width="42.20" height="36.10" fill="#030303"/>
<line x1="283.50" y1="466.80" x2="283.50" y2="476.20" stroke="#050505" stroke-width="2.2"/>
<line x1="274.30" y1="466.80" x2="292.70" y2="466.80" stroke="#050505" stroke-width="2.2"/>
<rect x="342.00" y="327.40" width="42.30" height="184.90" fill="#030303"/>
<line x1="363.15" y1="321.20" x2="363.15" y2="327.40" stroke="#050505" stroke-width="2.2"/>
<line x1="353.95" y1="321.20" x2="372.35" y2="321.20" stroke="#050505" stroke-width="2.2"/>
<text x="203.7" y="355.3" class="dj" font-size="23.5" text-anchor="middle" fill="#141414" stroke="#141414" stroke-width="0.4">*</text>
<text transform="translate(123.89999999999999,533.6)"  font-size="24.2" font-weight="bold" stroke="#141414" stroke-width="0.4" stroke-linejoin="round" text-anchor="middle" fill="#141414" >vector</text>
<text transform="translate(207.8,533.6)"  font-size="24.2" font-weight="bold" stroke="#141414" stroke-width="0.4" stroke-linejoin="round" text-anchor="middle" fill="#141414" >WT</text>
<text transform="translate(284.8,533.6)"  font-size="24.2" font-weight="bold" stroke="#141414" stroke-width="0.4" stroke-linejoin="round" text-anchor="middle" fill="#141414" >mut</text>
<text transform="translate(368.90000000000003,533.6)"  font-size="24.2" font-weight="bold" stroke="#141414" stroke-width="0.4" stroke-linejoin="round" text-anchor="middle" fill="#141414" >PHAR</text>
<text transform="translate(24.4,456.1) rotate(-90)"  font-size="27.5" font-weight="bold" stroke="#141414" stroke-width="0.4" stroke-linejoin="round" text-anchor="start" fill="#141414" >% Death</text>
</svg>
</body></html>
